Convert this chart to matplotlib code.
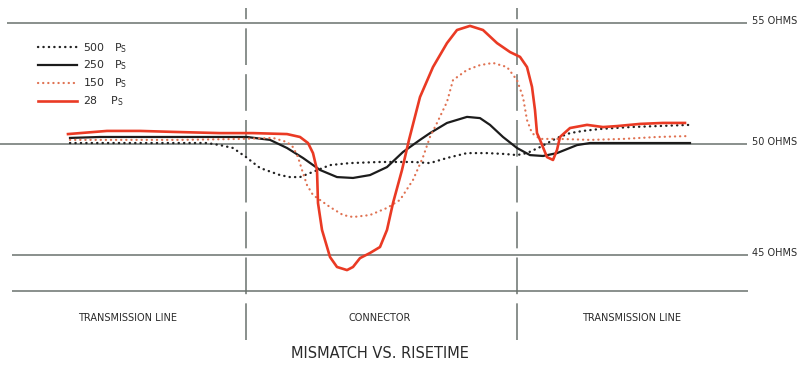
import numpy as np
import matplotlib
matplotlib.use("Agg")
import matplotlib.pyplot as plt

# position along the line (arbitrary units) and impedance in ohms, per risetime
x_500 = [70, 110, 150, 190, 207, 220, 233, 246, 260, 280, 290, 300, 310, 330, 350,
         380, 400, 413, 430, 447, 467, 487, 505, 517, 527, 540, 557, 570, 583, 600,
         630, 657, 690]
z_500 = [50.04, 50.04, 50.04, 50.04, 50.04, 49.95, 49.82, 49.41, 48.92, 48.60,
         48.51, 48.51, 48.69, 49.05, 49.14, 49.19, 49.19, 49.19, 49.14, 49.37,
         49.59, 49.59, 49.55, 49.50, 49.59, 49.86, 50.25, 50.45, 50.54, 50.62,
         50.70, 50.74, 50.79]

x_250 = [70, 100, 150, 200, 247, 270, 287, 303, 320, 337, 353, 370, 387, 403, 420,
         430, 447, 467, 480, 490, 503, 517, 530, 543, 557, 577, 590, 640, 690]
z_250 = [50.25, 50.29, 50.29, 50.29, 50.29, 50.17, 49.82, 49.37, 48.83, 48.51,
         48.47, 48.60, 48.96, 49.64, 50.17, 50.45, 50.87, 51.12, 51.07, 50.79,
         50.29, 49.82, 49.50, 49.46, 49.59, 49.95, 50.04, 50.04, 50.04]

x_150 = [70, 120, 180, 240, 273, 287, 293, 298, 302, 307, 313, 320, 330, 343, 353,
         370, 387, 400, 413, 423, 430, 437, 447, 453, 467, 480, 493, 507, 517, 523,
         527, 532, 540, 560, 590, 623, 657, 690]
z_150 = [50.17, 50.17, 50.17, 50.21, 50.25, 50.08, 49.86, 49.41, 48.83, 48.15,
         47.70, 47.48, 47.16, 46.80, 46.71, 46.80, 47.12, 47.48, 48.38, 49.41,
         50.29, 50.87, 51.74, 52.64, 53.06, 53.26, 53.35, 53.18, 52.64, 51.94,
         50.99, 50.45, 50.21, 50.21, 50.17, 50.21, 50.29, 50.33]

x_28 = [68, 107, 140, 173, 220, 253, 287, 300, 308, 313, 317, 318, 322, 330, 337,
        347, 353, 360, 370, 380, 387, 393, 402, 409, 420, 433, 447, 457, 470, 483,
        497, 510, 520, 527, 532, 535, 537, 540, 547, 553, 557, 560, 570, 587, 603,
        617, 640, 663, 685]
z_28 = [50.41, 50.54, 50.54, 50.50, 50.45, 50.45, 50.41, 50.29, 50.04, 49.59,
        48.83, 47.34, 46.13, 44.91, 44.46, 44.32, 44.46, 44.86, 45.09, 45.36,
        46.13, 47.34, 48.83, 50.17, 51.94, 53.18, 54.17, 54.71, 54.88, 54.71,
        54.17, 53.80, 53.60, 53.18, 52.36, 51.40, 50.45, 50.17, 49.41, 49.28,
        49.73, 50.29, 50.66, 50.79, 50.70, 50.74, 50.83, 50.87, 50.87]

ref_levels = [55, 50, 45]
ref_labels = ["55 OHMS", "50 OHMS", "45 OHMS"]
base_level = 43.38
boundaries = [246, 517]
sections = ["TRANSMISSION LINE", "CONNECTOR", "TRANSMISSION LINE"]
section_x = [128, 380, 632]

# the hand-drawn ohm grid is not evenly spaced, so use a piecewise scale
OHM_KNOTS = [35, 45, 50, 55, 65]
PX_KNOTS = [-222, 0, 111, 232, 474]


def fwd(z):
    return np.interp(z, OHM_KNOTS, PX_KNOTS)


def inv(s):
    return np.interp(s, PX_KNOTS, OHM_KNOTS)


grid_col = "#6a716d"
text_col = "#2a2a2a"

fig = plt.figure(figsize=(8, 3.66), dpi=100)
ax = fig.add_axes([0, 0, 1, 1])
ax.set_yscale("function", functions=(fwd, inv))
ax.set_xlim(0, 800)
ax.set_ylim(40.0, 55.95)
ax.axis("off")

# grid
ax.hlines(ref_levels, [7, 0, 12], [747, 747, 748], color=grid_col, lw=1.1)
ax.hlines(base_level, 12, 748, color=grid_col, lw=1.1)
ax.vlines(boundaries, 41.17, 55.62, color=grid_col, lw=1.1,
          linestyles=[(0, (24, 6))])
for lev, lab in zip(ref_levels, ref_labels):
    ax.text(752, lev + 0.1, lab, fontsize=7, color=text_col, va="center", ha="left")
trans = ax.get_xaxis_transform()
for xs, name in zip(section_x, sections):
    ax.text(xs, 1 - 318 / 366, name, transform=trans,
            fontsize=7, color=text_col, ha="center", va="center")
ax.text(380, 1 - 354 / 366, "MISMATCH VS. RISETIME", transform=trans,
        fontsize=10.5, color=text_col, ha="center", va="center")

# curves
dots = (0, (0.1, 2.2))
ax.plot(x_500, z_500, color="#222222", lw=1.7, ls=dots, dash_capstyle="round",
        label=r"500   P$_\mathregular{S}$")
ax.plot(x_250, z_250, color="#1c1c1c", lw=1.6, solid_joinstyle="round",
        label=r"250   P$_\mathregular{S}$")
ax.plot(x_150, z_150, color="#e07252", lw=1.6, ls=dots, dash_capstyle="round",
        label=r"150   P$_\mathregular{S}$")
ax.plot(x_28, z_28, color="#ea3a24", lw=1.9, solid_joinstyle="round",
        label=r"28    P$_\mathregular{S}$")

leg = ax.legend(loc="upper left", bbox_to_anchor=(28 / 800, 1 - 31 / 366),
                frameon=False, handlelength=3.6, handletextpad=0.6,
                labelspacing=0.38, fontsize=7.8)
for t in leg.get_texts():
    t.set_color(text_col)

fig.savefig("out.png", dpi=100, facecolor="white")
